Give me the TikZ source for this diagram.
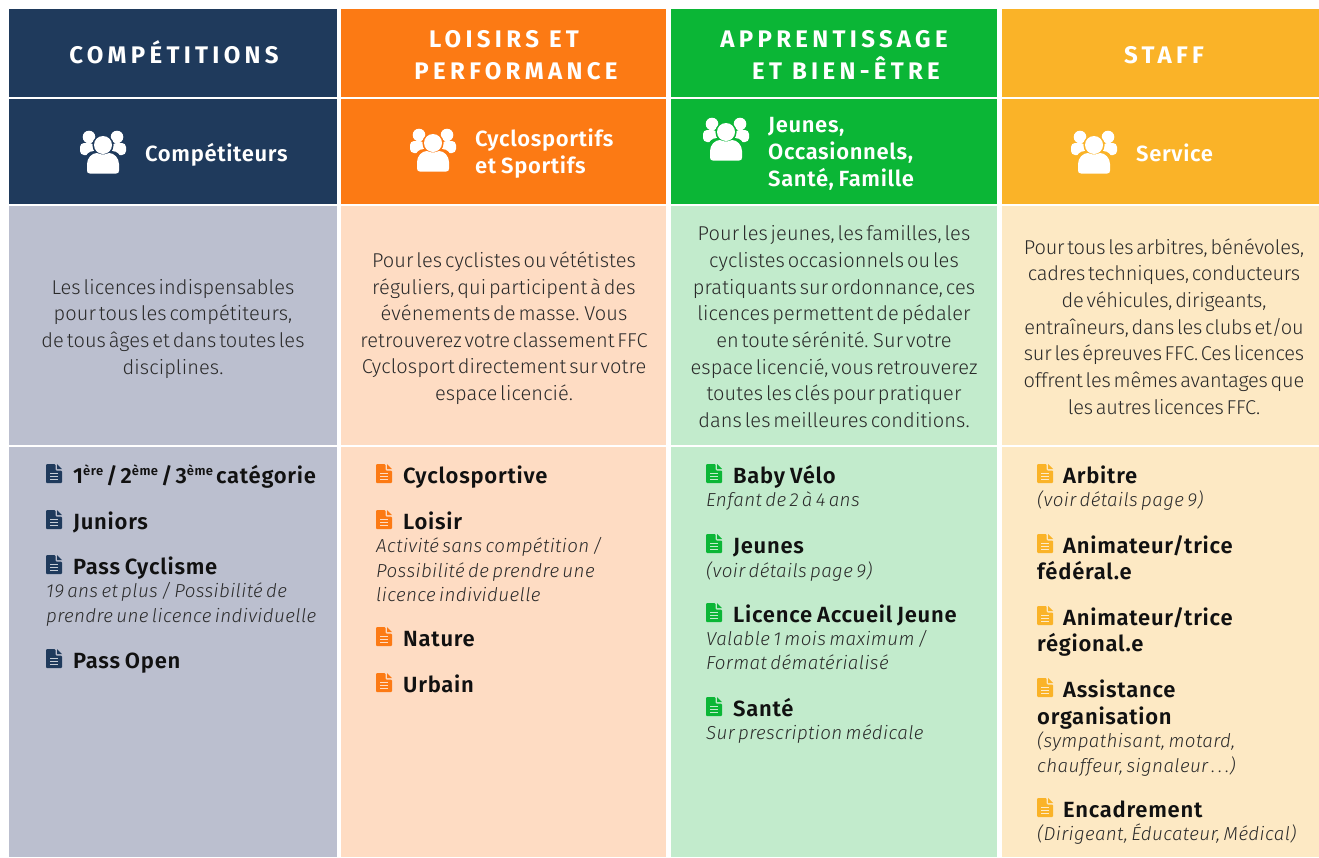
\documentclass[tikz,border=0pt]{standalone}
\usepackage{fontspec}
\setmainfont{Fira Sans Light}
\newfontfamily\boldf{Fira Sans Bold}[LetterSpace=18]
\newfontfamily\itemf{Fira Sans SemiBold}[WordSpace=0.8,LetterSpace=3.4]
\newfontfamily\subf{Fira Sans SemiBold}[WordSpace=0.8,LetterSpace=3]
\newfontfamily\descf{Fira Sans Light}[WordSpace=0.5,LetterSpace=0.5]
\newfontfamily\descg{Fira Sans Light}[WordSpace=0.5,LetterSpace=-0.9]
\newfontfamily\lightit{Fira Sans Light Italic}[WordSpace=0.6,LetterSpace=2]
\definecolor{cA}{HTML}{1F3A5C}\definecolor{cB}{HTML}{FC7A14}\definecolor{cC}{HTML}{0BB636}\definecolor{cD}{HTML}{FAB328}
\definecolor{lA}{HTML}{BBBFCF}\definecolor{lB}{HTML}{FEDCC3}\definecolor{lC}{HTML}{C2EBCC}\definecolor{lD}{HTML}{FDE9C4}
\definecolor{ink}{HTML}{111111}\definecolor{body}{HTML}{2A2A2A}
\tikzset{
 x=1pt,y=-1pt,
 title/.style={anchor=base,text=white,font=\boldf\fontsize{24}{24}\selectfont,inner sep=0pt},
 sub/.style={anchor=base west,text=white,font=\subf\fontsize{22}{22}\selectfont,inner sep=0pt},
 desc/.style={anchor=base,text=body,font=\descf\fontsize{20}{20}\selectfont,inner sep=0pt},
 descb/.style={anchor=base,text=body,font=\descg\fontsize{20}{20}\selectfont,inner sep=0pt},
 item/.style={anchor=base west,text=ink,font=\itemf\fontsize{22}{22}\selectfont,inner sep=0pt},
 note/.style={anchor=base west,text=body,font=\lightit\fontsize{18.8}{20}\selectfont,inner sep=0pt},
}
\newcommand{\supr}[1]{\raisebox{7.5pt}{\fontsize{13}{13}\selectfont #1}}
\newcommand{\tsp}{\hspace{3pt}}
\newcommand{\people}[3]{% x,y centre, ring colour
 \begin{scope}[shift={(#1,#2)}]
 \fill[white] (-14,-15) circle (6.3) (14,-15) circle (6.3);
 \fill[white,rounded corners=4] (-23,-9) rectangle (-9,3);
 \fill[white,rounded corners=4] (23,-9) rectangle (9,3);
 \fill[#3] (0,-7) circle (10.6);
 \fill[#3,rounded corners=9] (-18,23) rectangle (18,-1);
 \fill[white] (0,-7) circle (9);
 \fill[white] (-13,21.5) .. controls (-15,21.5) and (-16,20.5) .. (-16,18.5) -- (-16,12) .. controls (-16,6) and (-11,1) .. (-6,1)
   .. controls (-2,3) and (2,3) .. (6,1) .. controls (11,1) and (16,6) .. (16,12) -- (16,18.5) .. controls (16,20.5) and (15,21.5) .. (13,21.5) -- cycle;
 \end{scope}}
\newcommand{\doc}[3]{% x,y top-left, colour
 \begin{scope}[shift={(#1,#2)}]
 \fill[#3,rounded corners=1] (0,0) -- (9.5,0) -- (9.5,6.5) -- (16,6.5) -- (16,19) -- (0,19) -- cycle;
 \fill[#3] (11,0) -- (16,5) -- (11,5) -- cycle;
 \draw[white,line width=1.1pt,opacity=.75] (4,9.5) -- (12,9.5) (4,12.3) -- (12,12.3) (4,15.1) -- (12,15.1);
 \end{scope}}
\begin{document}
\begin{tikzpicture}
\useasboundingbox (0,0) rectangle (1319,857);
\fill[white] (0,0) rectangle (1319,857);
% columns
\foreach \xa/\xb/\c/\l in {9/337/cA/lA,341/666/cB/lB,671/997/cC/lC,1002/1319/cD/lD}{
 \fill[\c] (\xa,9) rectangle (\xb,97);
 \fill[\c] (\xa,98.5) rectangle (\xb,204);
 \fill[\l] (\xa,206) rectangle (\xb,445);
 \fill[\l] (\xa,447) rectangle (\xb,857);
}
% titles
\node[title] at (174,63) {COMPÉTITIONS};
\node[title] at (504,47) {LOISIRS ET};
\node[title] at (516,79) {PERFORMANCE};
\node[title] at (834,47) {APPRENTISSAGE};
\node[title] at (846,79) {ET BIEN-ÊTRE};
\node[title] at (1164,63) {STAFF};
% sub
\people{103}{152}{cA}\node[sub] at (145,161) {Compétiteurs};
\people{433}{150}{cB}\node[sub] at (475,146) {Cyclosportifs};\node[sub] at (475,173) {et Sportifs};
\people{726}{139}{cC}\node[sub] at (768,132) {Jeunes,};\node[sub] at (768,159) {Occasionnels,};\node[sub] at (768,186) {Santé, Famille};
\people{1094}{152}{cD}\node[sub] at (1136,161) {Service};
% desc
\node[desc] at (173,294) {Les licences indispensables};
\node[desc] at (173,320) {pour tous les compétiteurs,};
\node[desc] at (173,347) {de tous âges et dans toutes les};
\node[desc] at (173,374) {disciplines.};
\node[desc] at (504,267) {Pour les cyclistes ou vététistes};
\node[desc] at (504,294) {réguliers, qui participent à des};
\node[desc] at (504,320) {événements de masse. Vous};
\node[desc] at (504,347) {retrouverez votre classement FFC};
\node[desc] at (504,373) {Cyclosport directement sur votre};
\node[desc] at (504,400) {espace licencié.};
\node[desc] at (834,240) {Pour les jeunes, les familles, les};
\node[desc] at (834,267) {cyclistes occasionnels ou les};
\node[desc] at (834,294) {pratiquants sur ordonnance, ces};
\node[desc] at (834,320) {licences permettent de pédaler};
\node[desc] at (834,347) {en toute sérénité. Sur votre};
\node[desc] at (834,374) {espace licencié, vous retrouverez};
\node[desc] at (834,400) {toutes les clés pour pratiquer};
\node[desc] at (834,427) {dans les meilleures conditions.};
\node[descb] at (1164,254) {Pour tous les arbitres, bénévoles,};
\node[descb] at (1164,280) {cadres techniques, conducteurs};
\node[descb] at (1164,307) {de véhicules, dirigeants,};
\node[descb] at (1164,334) {entraîneurs, dans les clubs et/ou};
\node[descb] at (1164,360) {sur les épreuves FFC. Ces licences};
\node[descb] at (1164,387) {offrent les mêmes avantages que};
\node[descb] at (1164,414) {les autres licences FFC.};
% col 1
\doc{46}{464}{cA}\node[item] at (73,483) {1\supr{ère}\tsp/\tsp2\supr{ème}\tsp/\tsp3\supr{ème}\tsp catégorie};
\doc{46}{510}{cA}\node[item] at (73,529) {Juniors};
\doc{46}{555}{cA}\node[item] at (73,574) {Pass Cyclisme};
\node[note] at (46,597) {19 ans et plus / Possibilité de};
\node[note] at (46,622) {prendre une licence individuelle};
\doc{46}{649}{cA}\node[item] at (73,668) {Pass Open};
% col 2
\doc{376}{464}{cB}\node[item] at (403,483) {Cyclosportive};
\doc{376}{510}{cB}\node[item] at (403,529) {Loisir};
\node[note] at (376,552) {Activité sans compétition /};
\node[note] at (376,577) {Possibilité de prendre une};
\node[note] at (376,601) {licence individuelle};
\doc{376}{627}{cB}\node[item] at (403,646) {Nature};
\doc{376}{673}{cB}\node[item] at (403,692) {Urbain};
% col 3
\doc{706}{464}{cC}\node[item] at (733,483) {Baby Vélo};
\node[note] at (706,506) {Enfant de 2 à 4 ans};
\doc{706}{534}{cC}\node[item] at (733,553) {Jeunes};
\node[note] at (706,577) {(voir détails page 9)};
\doc{706}{603}{cC}\node[item] at (733,622) {Licence Accueil Jeune};
\node[note] at (706,645) {Valable 1 mois maximum /};
\node[note] at (706,669) {Format dématérialisé};
\doc{706}{697}{cC}\node[item] at (733,716) {Santé};
\node[note] at (706,739) {Sur prescription médicale};
% col 4
\doc{1037}{464}{cD}\node[item] at (1063,483) {Arbitre};
\node[note] at (1037,506) {(voir détails page 9)};
\doc{1037}{534}{cD}\node[item] at (1063,553) {Animateur/trice};
\node[item] at (1037,579) {fédéral.e};
\doc{1037}{606}{cD}\node[item] at (1063,625) {Animateur/trice};
\node[item] at (1037,651) {régional.e};
\doc{1037}{678}{cD}\node[item] at (1063,697) {Assistance};
\node[item] at (1037,724) {organisation};
\node[note] at (1037,747) {(sympathisant, motard,};
\node[note] at (1037,772) {chauffeur, signaleur\,.\,.\,.)};
\doc{1037}{798}{cD}\node[item] at (1063,817) {Encadrement};
\node[note] at (1037,840) {(Dirigeant, Éducateur, Médical)};
\end{tikzpicture}
\end{document}
